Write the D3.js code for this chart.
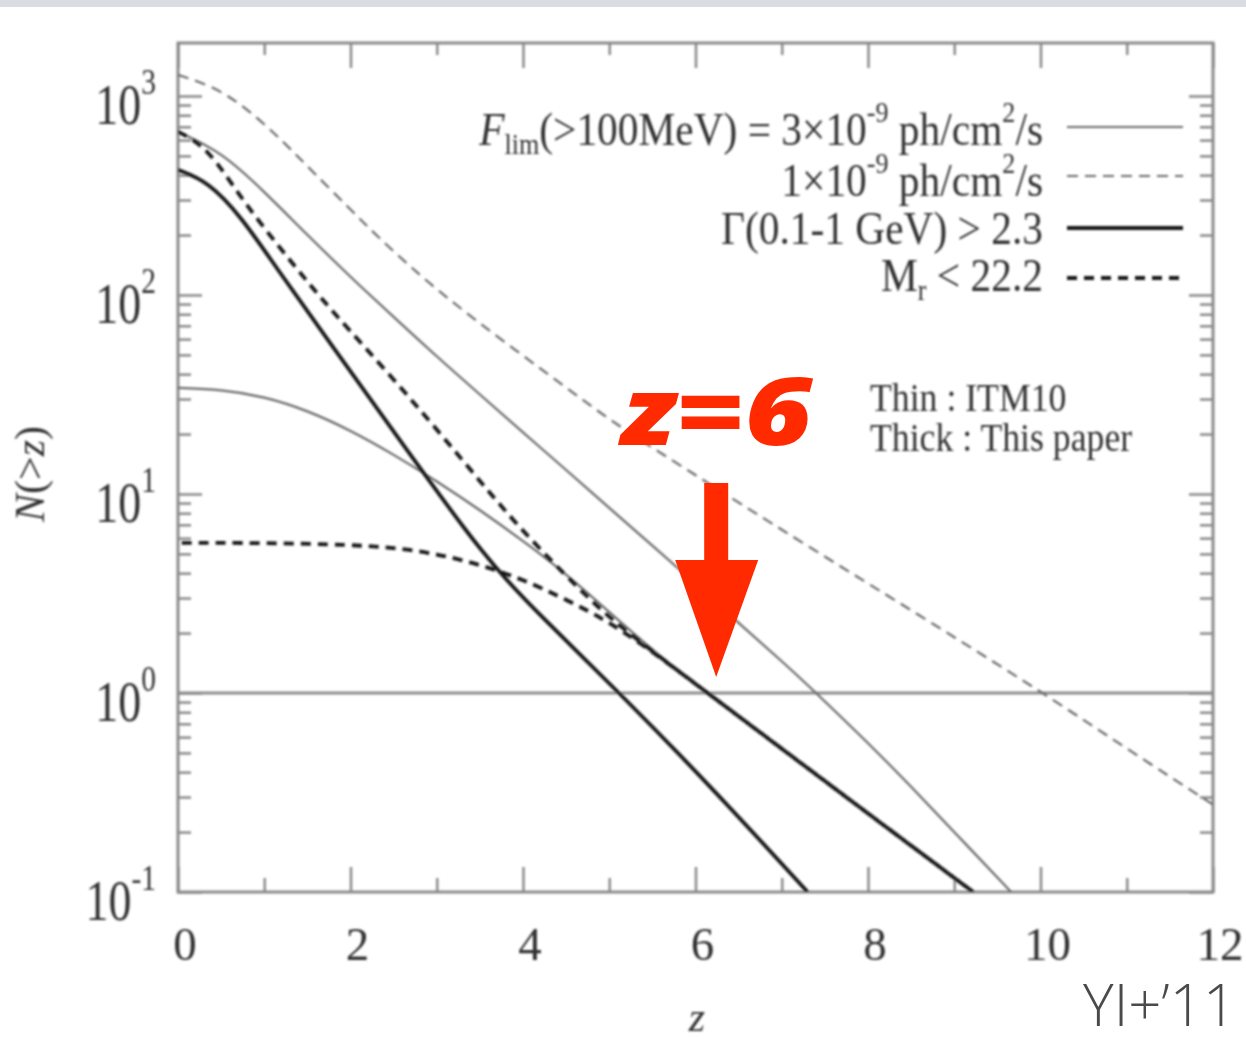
<!DOCTYPE html>
<html>
<head>
<meta charset="utf-8">
<script src="https://cdn.jsdelivr.net/npm/d3@7"></script>
<style>
  html, body { margin: 0; padding: 0; background: #fff; }
  svg { display: block; }
</style>
</head>
<body>
<svg id="chart" width="1246" height="1044"></svg>
<script>
// Cumulative source counts N(>z) versus redshift z

const xTicks = [0, 2, 4, 6, 8, 10, 12];
const xMinorTicks = [1, 3, 5, 7, 9, 11];
const xTickLabels = ["0", "2", "4", "6", "8", "10", "12"];
const yTickExponents = [-1, 0, 1, 2, 3];

// Thin dashed: ITM10, F_lim = 1e-9 ph/cm^2/s
const itmFaintZ = [0, 0.4, 0.78, 1.2, 1.54, 2.0, 2.32, 2.7, 3.1, 3.86, 4.64, 5.12, 6.02, 6.63, 8.0, 9.0, 10.03, 11.0, 12.0];
const itmFaintN = [1276, 1122, 881, 603, 425, 269, 195, 138, 97.7, 54.8, 30.9, 21.7, 12.3, 8.32, 3.55, 1.91, 1.0, 0.525, 0.275];

// Thin solid: ITM10, F_lim = 3e-9 ph/cm^2/s
const itmBrightZ = [0, 0.5, 1.0, 1.5, 2.0, 2.5, 3.0, 3.5, 4.0, 4.5, 5.0, 5.5, 6.0, 6.5, 7.0, 7.4, 8.0, 8.5, 9.0, 9.66];
const itmBrightN = [661, 525, 331, 200, 123, 77.6, 49.0, 31.6, 20.4, 13.2, 8.51, 5.50, 3.55, 2.24, 1.45, 1.0, 0.562, 0.339, 0.200, 0.1];

// Thin solid: ITM10 with the photon index cut
const itmGammaZ = [0, 0.5, 1.0, 1.5, 2.0, 2.5, 3.0, 3.5, 4.0, 4.5, 5.12, 5.6, 6.14, 7.0, 8.0, 9.22];
const itmGammaN = [34.1, 33.5, 30.9, 26.3, 20.9, 15.8, 11.6, 8.32, 5.82, 3.98, 2.29, 1.51, 1.0, 0.525, 0.248, 0.1];

// Thick dashed: this paper, F_lim = 1e-9 ph/cm^2/s
const paperFaintZ = [0, 0.35, 0.74, 1.32, 1.76, 2.54, 3.3, 3.93, 4.7, 5.12, 6.14, 7.0, 8.0, 9.22];
const paperFaintN = [661, 550, 300, 145, 85.1, 36.3, 14.8, 6.92, 3.16, 2.15, 1.0, 0.525, 0.248, 0.1];

// Thick solid: this paper, F_lim = 3e-9 ph/cm^2/s
const paperBrightZ = [0, 0.35, 0.74, 1.12, 1.76, 2.54, 3.39, 3.8, 4.2, 5.12, 6.2, 7.3];
const paperBrightN = [425, 372, 245, 141, 57.5, 19.5, 6.03, 3.72, 2.45, 1.0, 0.331, 0.1];

// Thick dashed: this paper with the magnitude cut M_r < 22.2
const paperMagZ = [0, 1.0, 2.0, 2.5, 3.0, 3.5, 4.0, 4.5, 5.12, 6.14, 7.0, 8.0, 9.22];
const paperMagN = [5.68, 5.68, 5.56, 5.37, 5.01, 4.42, 3.72, 2.95, 2.15, 1.0, 0.525, 0.248, 0.1];

const legendLabels = ["3\u00d710", "1\u00d710", "\u0393(0.1-1 GeV) > 2.3", "< 22.2"];

const svg = d3.select("#chart");
const W = 1246, H = 1044;
const margin = { left: 178, right: 33, top: 43, bottom: 152 };
const plotW = W - margin.left - margin.right;
const plotH = H - margin.top - margin.bottom;

const x = d3.scaleLinear().domain([0, 12]).range([margin.left, margin.left + plotW]);
const y = d3.scaleLog().domain([0.1, 1845]).range([margin.top + plotH, margin.top]);

const serif = "'Liberation Serif', 'DejaVu Serif', serif";
const frameColor = "#8a8a8a";
const thinColor = "#6a6a6a";
const thickColor = "#181818";
const red = "#ff2a00";
const thickDash = [10, 7];

svg.append("rect").attr("width", W).attr("height", H).attr("fill", "#fff");
// thin grey band along the top edge
svg.append("rect").attr("x", 0).attr("y", 0).attr("width", W).attr("height", 7).attr("fill", "#d9dde2");

const defs = svg.append("defs");
defs.append("filter").attr("id", "soft")
  .attr("x", "-5%").attr("y", "-5%").attr("width", "110%").attr("height", "110%")
  .append("feGaussianBlur").attr("stdDeviation", 0.9);
defs.append("clipPath").attr("id", "plotClip")
  .append("rect")
  .attr("x", margin.left).attr("y", margin.top)
  .attr("width", plotW).attr("height", plotH);

const g = svg.append("g").attr("filter", "url(#soft)");

// ---- axes with inward ticks on all four sides ----
function styleAxis(sel) {
  sel.select(".domain").remove();
  sel.selectAll(".tick line").attr("stroke", frameColor).attr("stroke-width", 2.5);
  sel.selectAll(".tick text").remove();
}

const yMinor = [];
for (let e = -1; e <= 3; e++) {
  for (let k = 2; k <= 9; k++) {
    const v = k * Math.pow(10, e);
    if (v <= y.domain()[1]) yMinor.push(v);
  }
}
const yMajor = yTickExponents.map(e => Math.pow(10, e));

g.append("g").attr("transform", `translate(0,${margin.top + plotH})`)
  .call(d3.axisBottom(x).tickValues(xTicks).tickSizeInner(-25).tickSizeOuter(0)).call(styleAxis);
g.append("g").attr("transform", `translate(0,${margin.top + plotH})`)
  .call(d3.axisBottom(x).tickValues(xMinorTicks).tickSizeInner(-14).tickSizeOuter(0)).call(styleAxis);
g.append("g").attr("transform", `translate(0,${margin.top})`)
  .call(d3.axisTop(x).tickValues(xTicks).tickSizeInner(-25).tickSizeOuter(0)).call(styleAxis);
g.append("g").attr("transform", `translate(0,${margin.top})`)
  .call(d3.axisTop(x).tickValues(xMinorTicks).tickSizeInner(-12).tickSizeOuter(0)).call(styleAxis);

g.append("g").attr("transform", `translate(${margin.left},0)`)
  .call(d3.axisLeft(y).tickValues(yMajor).tickSizeInner(-24).tickSizeOuter(0)).call(styleAxis);
g.append("g").attr("transform", `translate(${margin.left},0)`)
  .call(d3.axisLeft(y).tickValues(yMinor).tickSizeInner(-13).tickSizeOuter(0)).call(styleAxis);
g.append("g").attr("transform", `translate(${margin.left + plotW},0)`)
  .call(d3.axisRight(y).tickValues(yMajor).tickSizeInner(-24).tickSizeOuter(0)).call(styleAxis);
g.append("g").attr("transform", `translate(${margin.left + plotW},0)`)
  .call(d3.axisRight(y).tickValues(yMinor).tickSizeInner(-13).tickSizeOuter(0)).call(styleAxis);

// frame
g.append("rect")
  .attr("x", margin.left).attr("y", margin.top)
  .attr("width", plotW).attr("height", plotH)
  .attr("fill", "none").attr("stroke", frameColor).attr("stroke-width", 3);

// N = 1 reference line
g.append("line")
  .attr("x1", x(0)).attr("x2", x(12))
  .attr("y1", y(1)).attr("y2", y(1))
  .attr("stroke", "#8c8c8c").attr("stroke-width", 3);

// ---- tick labels ----
g.append("g").selectAll("text").data(xTicks).join("text")
  .attr("x", d => x(d) + 7)
  .attr("y", margin.top + plotH + 68)
  .attr("text-anchor", "middle")
  .attr("font-family", serif).attr("font-size", 47).attr("fill", "#333")
  .text((d, i) => xTickLabels[i]);

const yLab = g.append("g").selectAll("g").data(yTickExponents).join("g")
  .attr("transform", d => `translate(156,${y(Math.pow(10, d)) + 28}) scale(0.82,1)`);
yLab.append("text")
  .attr("text-anchor", "end")
  .attr("font-family", serif).attr("font-size", 56).attr("fill", "#333")
  .each(function (d) {
    const t = d3.select(this);
    t.append("tspan").text("10");
    t.append("tspan").attr("dy", -30).attr("font-size", 36).text(String(d));
  });

// axis titles
g.append("text")
  .attr("transform", `translate(44,474) rotate(-90)`)
  .attr("text-anchor", "middle")
  .attr("font-family", serif).attr("font-size", 42).attr("fill", "#333")
  .call(t => {
    t.append("tspan").attr("font-style", "italic").text("N");
    t.append("tspan").text("(>");
    t.append("tspan").attr("font-style", "italic").text("z");
    t.append("tspan").text(")");
  });
g.append("text")
  .attr("x", 697).attr("y", 1031)
  .attr("text-anchor", "middle")
  .attr("font-family", serif).attr("font-style", "italic").attr("font-size", 42).attr("fill", "#333")
  .text("z");

// ---- curves ----
const series = [
  { key: "itmFaint", z: itmFaintZ, n: itmFaintN, color: thinColor, width: 2.2, dash: "11,7" },
  { key: "itmBright", z: itmBrightZ, n: itmBrightN, color: thinColor, width: 2.2, dash: null },
  { key: "itmGamma", z: itmGammaZ, n: itmGammaN, color: thinColor, width: 2.2, dash: null },
  { key: "paperMag", z: paperMagZ, n: paperMagN, color: thickColor, width: 3.8, dash: thickDash.join(",") },
  { key: "paperFaint", z: paperFaintZ, n: paperFaintN, color: thickColor, width: 3.8, dash: thickDash.join(",") },
  { key: "paperBright", z: paperBrightZ, n: paperBrightN, color: thickColor, width: 3.8, dash: null }
];

const line = d3.line()
  .x(d => x(d[0]))
  .y(d => y(d[1]))
  .curve(d3.curveBasis);

const curves = g.append("g").attr("clip-path", "url(#plotClip)");
const paths = {};
series.forEach(s => {
  paths[s.key] = curves.append("path")
    .datum(s.z.map((zv, i) => [zv, s.n[i]]))
    .attr("d", line)
    .attr("fill", "none")
    .attr("stroke", s.color)
    .attr("stroke-width", s.width)
    .attr("stroke-dasharray", s.dash);
});

// Where the two thick dashed curves run together, shift one pattern by half a
// period so the shared stretch reads as a single solid line.
function lengthAtX(node, targetX) {
  let lo = 0, hi = node.getTotalLength();
  for (let i = 0; i < 40; i++) {
    const mid = (lo + hi) / 2;
    if (node.getPointAtLength(mid).x < targetX) lo = mid; else hi = mid;
  }
  return lo;
}
const mergeX = x(6.14);
const period = thickDash[0] + thickDash[1];
const lFaint = lengthAtX(paths.paperFaint.node(), mergeX);
const lMag = lengthAtX(paths.paperMag.node(), mergeX);
paths.paperMag.attr("stroke-dashoffset", lFaint + period / 2 - lMag);

// ---- legend ----
const legendRows = [
  { y: 127, base: 145, color: thinColor, width: 2.2, dash: null },
  { y: 176, base: 196, color: thinColor, width: 2.2, dash: "11,7" },
  { y: 228, base: 244, color: thickColor, width: 3.8, dash: null },
  { y: 278, base: 291, color: thickColor, width: 3.8, dash: thickDash.join(",") }
];
const leg = g.append("g");
legendRows.forEach(r => {
  leg.append("line")
    .attr("x1", 1067).attr("x2", 1183)
    .attr("y1", r.y).attr("y2", r.y)
    .attr("stroke", r.color).attr("stroke-width", r.width)
    .attr("stroke-dasharray", r.dash);
});

function legendText(row) {
  return leg.append("g")
    .attr("transform", `translate(1043,${row.base}) scale(0.9,1)`)
    .append("text")
    .attr("text-anchor", "end")
    .attr("font-family", serif).attr("font-size", 46).attr("fill", "#333");
}

legendText(legendRows[0]).call(t => {
  t.append("tspan").attr("font-style", "italic").text("F");
  t.append("tspan").attr("font-size", 29).attr("dy", 9).text("lim");
  t.append("tspan").attr("dy", -9).text("(>100MeV) = " + legendLabels[0]);
  t.append("tspan").attr("font-size", 29).attr("dy", -23).text("-9");
  t.append("tspan").attr("dy", 23).text(" ph/cm");
  t.append("tspan").attr("font-size", 29).attr("dy", -23).text("2");
  t.append("tspan").attr("dy", 23).text("/s");
});
legendText(legendRows[1]).call(t => {
  t.append("tspan").text(legendLabels[1]);
  t.append("tspan").attr("font-size", 29).attr("dy", -23).text("-9");
  t.append("tspan").attr("dy", 23).text(" ph/cm");
  t.append("tspan").attr("font-size", 29).attr("dy", -23).text("2");
  t.append("tspan").attr("dy", 23).text("/s");
});
legendText(legendRows[2]).text(legendLabels[2]);
legendText(legendRows[3]).call(t => {
  t.append("tspan").text("M");
  t.append("tspan").attr("font-size", 29).attr("dy", 9).text("r");
  t.append("tspan").attr("dy", -9).text(" " + legendLabels[3]);
});

const note = g.append("g").attr("transform", "translate(870,0) scale(0.94,1.05)");
note.append("text").attr("x", 0).attr("y", 391)
  .attr("font-family", serif).attr("font-size", 38).attr("fill", "#333")
  .text("Thin : ITM10");
note.append("text").attr("x", 0).attr("y", 430)
  .attr("font-family", serif).attr("font-size", 38).attr("fill", "#333")
  .text("Thick : This paper");

// ---- annotation: arrow marking where N(>z) drops to one ----
const arrowZ = 6.24;
const tipX = x(arrowZ);
const tipY = y(1) - 16;
const ann = svg.append("g");
ann.append("rect")
  .attr("x", tipX - 12).attr("y", tipY - 194)
  .attr("width", 24).attr("height", 80)
  .attr("fill", red);
ann.append("path")
  .attr("d", d3.line()([[tipX - 41, tipY - 117], [tipX + 42, tipY - 117], [tipX, tipY]]) + "Z")
  .attr("fill", red);
ann.append("text")
  .attr("x", tipX).attr("y", 445)
  .attr("text-anchor", "middle")
  .attr("font-family", "'Open Sans', 'Noto Sans', sans-serif")
  .attr("font-weight", 800).attr("font-style", "italic")
  .attr("font-size", 94)
  .attr("textLength", 192).attr("lengthAdjust", "spacingAndGlyphs")
  .attr("fill", red)
  .text("z=6");

svg.append("text")
  .attr("x", 1236).attr("y", 1026)
  .attr("text-anchor", "end")
  .attr("font-family", "'Open Sans', 'Noto Sans', sans-serif")
  .attr("font-weight", 300)
  .attr("font-size", 58)
  .attr("fill", "#4a4a4a")
  .text("YI+\u201911");
</script>
</body>
</html>
